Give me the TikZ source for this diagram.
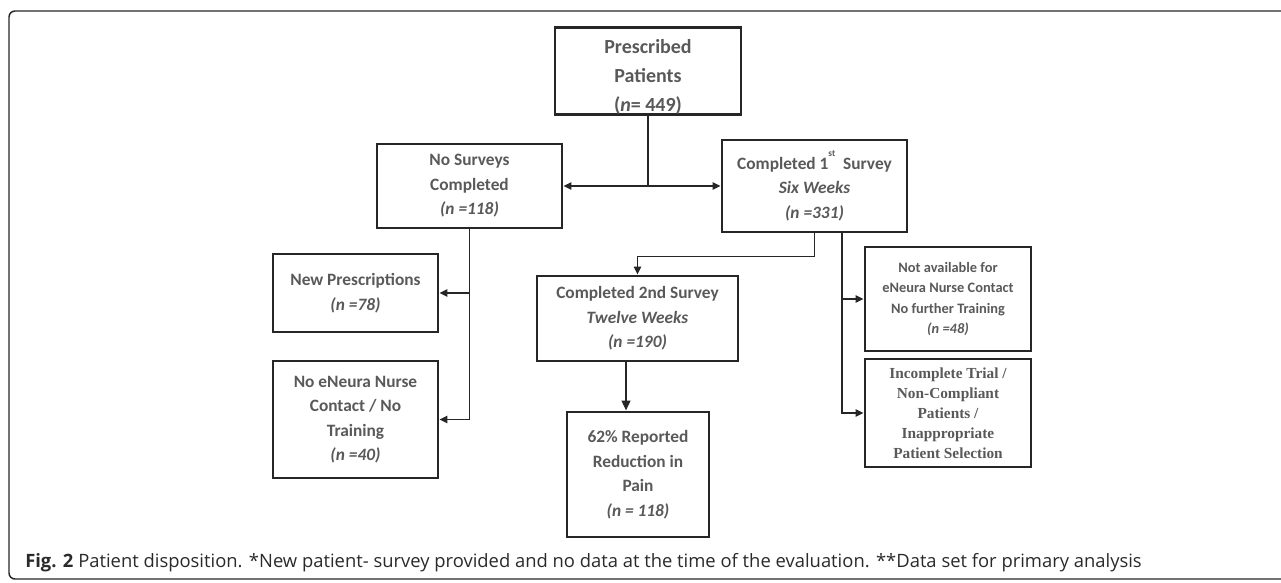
\documentclass[tikz,border=0pt]{standalone}
\usepackage{fontspec}
\setmainfont{Carlito}
\newfontfamily\capfont{Open Sans}
\newfontfamily\trialfont{Liberation Serif}
\usetikzlibrary{arrows.meta}
\definecolor{boxline}{HTML}{262626}
\definecolor{boxtext}{HTML}{595959}
\definecolor{captext}{HTML}{2A2A2A}
\tikzset{
  flowbox/.style={draw=boxline, line width=2.2pt, align=center, text=boxtext,
    inner sep=0pt, font=\bfseries\fontsize{13}{18.4}\selectfont},
  link/.style={draw=boxline, line width=1.1pt, -{Triangle[length=6pt,width=5.5pt]}},
}
\begin{document}
\begin{tikzpicture}[x=0.75pt,y=-0.75pt]
\path[use as bounding box] (0,0) rectangle (1281,582);
\clip (0,0) rectangle (1281,582);
\draw[boxline, line width=1.1pt, rounded corners=4.5pt] (9,11) rectangle (1300,579);
% boxes
\node[flowbox, minimum width=139.5pt, minimum height=63pt, font=\bfseries\fontsize{15}{21.75}\selectfont] (presc) at (648,71) {\rule{0pt}{19.5pt}Prescribed\\Patients\\(\textit{n}= 449)};
\node[flowbox, minimum width=138.75pt, minimum height=63pt] (nosurv) at (469.5,186) {No Surveys\\Completed\\\textit{(n =118)}};
\node[flowbox, minimum width=138.75pt, minimum height=69pt] (first) at (814.5,186) {Completed 1\raisebox{1.5ex}{\scriptsize st}\ \ Survey\\\textit{Six Weeks}\\\textit{(n =331)}};
\node[flowbox, minimum width=123.75pt, minimum height=58.5pt] (newpresc) at (355.5,293) {New Prescriptions\\\textit{(n =78)}};
\node[flowbox, minimum width=123.75pt, minimum height=87.75pt] (nocontact) at (355.5,419.5) {No eNeura Nurse\\Contact / No\\Training\\\textit{(n =40)}};
\node[flowbox, minimum width=150.75pt, minimum height=63.75pt] (second) at (637.5,318.5) {Completed 2nd Survey\\\textit{Twelve Weeks}\\\textit{(n =190)}};
\node[flowbox, minimum width=106.5pt, minimum height=93.75pt] (pain) at (638,474.5) {62\% Reported\\Reduction in\\Pain\\\textit{(n = 118)}};
\node[flowbox, minimum width=124.5pt, minimum height=78pt, font=\bfseries\fontsize{10.8}{15.4}\selectfont] (notavail) at (948,299) {Not available for\\eNeura Nurse Contact\\No further Training\\\textit{(n =48)}};
\node[flowbox, minimum width=124.5pt, minimum height=81pt, font=\trialfont\bfseries\fontsize{11.5}{15}\selectfont] (incompl) at (948,413) {Incomplete Trial /\\Non-Compliant\\Patients /\\Inappropriate\\Patient Selection};
% connectors
\coordinate (split) at (presc.south |- nosurv.east);
\draw[boxline, line width=1.1pt] (presc.south) -- (split);
\draw[link] (split) -- (nosurv.east);
\draw[link] (split) -- (first.west);
\draw[link] (nosurv.south) |- (nocontact.east);
\draw[link] (nosurv.south |- newpresc.east) -- (newpresc.east);
\draw[link] (first.south) -- ++(0,23) -| (second.north);
\path (first.south) ++(27.5,0) coordinate (rbus);
\draw[link] (rbus) |- (incompl.west);
\draw[link] (rbus |- notavail.west) -- (notavail.west);
\path (second.south) ++(-11.5,0) coordinate (sdrop);
\draw[link, line width=1.7pt, -{Triangle[length=7.5pt,width=6.5pt]}] (sdrop) -- (sdrop |- pain.north);
% caption
\node[anchor=west, font=\capfont\fontsize{13.8}{16}\selectfont, text=captext, inner sep=0pt] (caption) at (25,563) {\textbf{Fig. 2} Patient disposition. *New patient- survey provided and no data at the time of the evaluation. **Data set for primary analysis};
\end{tikzpicture}
\end{document}
